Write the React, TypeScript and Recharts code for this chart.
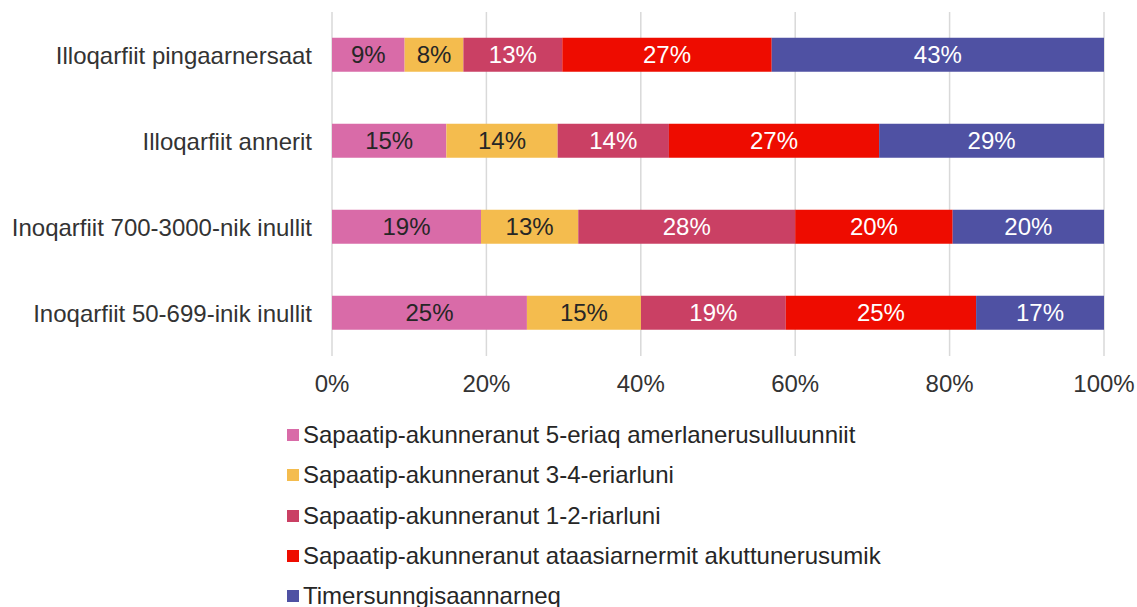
import { BarChart, Bar, XAxis, YAxis, CartesianGrid, LabelList, Legend } from "recharts";

const categories = [
  "Illoqarfiit pingaarnersaat",
  "Illoqarfiit annerit",
  "Inoqarfiit 700-3000-nik inullit",
  "Inoqarfiit 50-699-inik inullit",
];

const seriesNames = [
  "Sapaatip-akunneranut 5-eriaq amerlanerusulluunniit",
  "Sapaatip-akunneranut 3-4-eriarluni",
  "Sapaatip-akunneranut 1-2-riarluni",
  "Sapaatip-akunneranut ataasiarnermit akuttunerusumik",
  "Timersunngisaannarneq",
];

const fivePlus = [9.4, 14.8, 19.3, 25.3];
const threeFour = [7.6, 14.4, 12.6, 14.8];
const oneTwo = [12.8, 14.4, 28.1, 18.8];
const lessOften = [27.1, 27.2, 20.4, 24.7];
const never = [43.0, 29.1, 19.6, 16.6];

const xTicks = [0, 0.2, 0.4, 0.6, 0.8, 1];

const COLORS = ["#D96BA8", "#F4BC4E", "#CA4064", "#EE0C00", "#4F51A3"];
const LABEL_COLORS = ["#262626", "#262626", "#ffffff", "#ffffff", "#ffffff"];
const KEYS = ["s0", "s1", "s2", "s3", "s4"];
const seriesValues = [fivePlus, threeFour, oneTwo, lessOften, never];

const data = categories.map((name, i) => {
  const row: Record<string, string | number> = { name };
  seriesValues.forEach((vals, s) => {
    row[KEYS[s]] = vals[i];
  });
  return row;
});

const FONT = '"Liberation Sans", Arial, sans-serif';
const FS = 24;

// legend kept in series order (recharts sorts its payload by name)
function LegendBox() {
  return (
    <div style={{ height: 200, fontFamily: FONT, fontSize: FS, color: "#262626" }}>
      {seriesNames.map((name, i) => (
        <div key={i} style={{ height: 40.25, display: "flex", alignItems: "center", whiteSpace: "nowrap" }}>
          <span style={{ width: 12, height: 12, background: COLORS[i], display: "inline-block", marginRight: 4 }} />
          <span>{name}</span>
        </div>
      ))}
    </div>
  );
}

export default function App() {
  return (
    <div style={{ position: "absolute", left: 0, top: 0, width: 1137, height: 607, overflow: "hidden", background: "#fff", fontFamily: FONT }}>
      <BarChart
        width={1137}
        height={607}
        data={data}
        layout="vertical"
        stackOffset="expand"
        barCategoryGap="30%"
        margin={{ top: 12, right: 33, bottom: 11, left: 0 }}
      >
        <CartesianGrid horizontal={false} stroke="#d9d9d9" strokeWidth={1.5} />
        <XAxis
          type="number"
          domain={[0, 1]}
          ticks={xTicks}
          tickFormatter={(v: number) => `${Math.round(v * 100)}%`}
          axisLine={false}
          tickLine={false}
          tickSize={0}
          tickMargin={19}
          height={40}
          tick={{ fontSize: FS, fill: "#333" }}
          interval={0}
        />
        <YAxis
          type="category"
          dataKey="name"
          width={332}
          axisLine={false}
          tickLine={false}
          tickSize={0}
          tickMargin={20}
          tick={{ fontSize: FS, fill: "#333" }}
          interval={0}
        />
        <Legend
          layout="vertical"
          align="center"
          verticalAlign="bottom"
          content={<LegendBox />}
          wrapperStyle={{ left: 287, top: 415, bottom: "auto", width: "auto" }}
        />
        {KEYS.map((k, s) => (
          <Bar key={k} dataKey={k} name={seriesNames[s]} stackId="a" fill={COLORS[s]} isAnimationActive={false}>
            <LabelList
              dataKey={k}
              position="center"
              formatter={(v: any) => `${Math.round(Number(v))}%`}
              style={{ fontSize: FS, fill: LABEL_COLORS[s] }}
            />
          </Bar>
        ))}
      </BarChart>
    </div>
  );
}
